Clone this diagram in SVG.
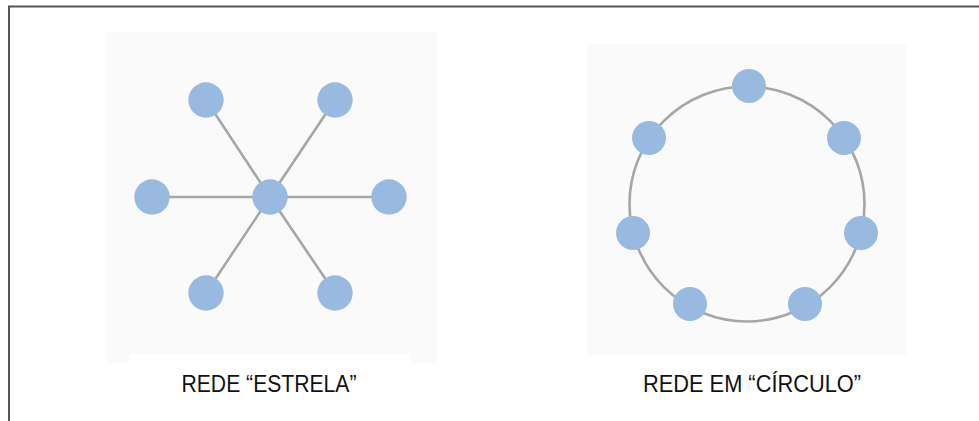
<svg xmlns="http://www.w3.org/2000/svg" width="979" height="421" viewBox="0 0 979 421">
<style>
.node{fill:#99bae0}
.edge{stroke:#a3a8a6;stroke-width:2.6;fill:none}
.panel{fill:#fbfafa}
.lbl{font-family:"Liberation Sans",Arial,sans-serif;font-size:24.5px;fill:#111;text-anchor:middle}
</style>
<rect width="979" height="421" fill="#fff"/>
<path d="M9 421 V6.5 H979" fill="none" stroke="#555" stroke-width="2"/>
<g id="panel-star">
<path class="panel" d="M106 32 H437 V363 H410 V354 H129 V363 H106 Z"/>
</g>
<g id="panel-circle">
<rect class="panel" x="587" y="44" width="319" height="311"/>
</g>
<g id="connectors">
<line class="edge" x1="270" y1="197" x2="206" y2="100"/>
<line class="edge" x1="270" y1="197" x2="335" y2="100"/>
<line class="edge" x1="270" y1="197" x2="152" y2="197"/>
<line class="edge" x1="270" y1="197" x2="389" y2="197"/>
<line class="edge" x1="270" y1="197" x2="206" y2="293"/>
<line class="edge" x1="270" y1="197" x2="335" y2="293"/>
<circle class="edge" cx="747" cy="204" r="117.5"/>
</g>
<g id="star-center"><circle class="node" cx="270" cy="197" r="17.7"/></g>
<g id="star-tl"><circle class="node" cx="206" cy="100" r="17.7"/></g>
<g id="star-tr"><circle class="node" cx="335" cy="100" r="17.7"/></g>
<g id="star-l"><circle class="node" cx="152" cy="197" r="17.7"/></g>
<g id="star-r"><circle class="node" cx="389" cy="197" r="17.7"/></g>
<g id="star-bl"><circle class="node" cx="206" cy="293" r="17.7"/></g>
<g id="star-br"><circle class="node" cx="335" cy="293" r="17.7"/></g>
<g id="ring-top"><circle class="node" cx="749" cy="86" r="17"/></g>
<g id="ring-ul"><circle class="node" cx="649" cy="138" r="17"/></g>
<g id="ring-ur"><circle class="node" cx="844" cy="138" r="17"/></g>
<g id="ring-l"><circle class="node" cx="633" cy="233" r="17"/></g>
<g id="ring-r"><circle class="node" cx="861" cy="233" r="17"/></g>
<g id="ring-bl"><circle class="node" cx="690" cy="304" r="17"/></g>
<g id="ring-br"><circle class="node" cx="805" cy="304" r="17"/></g>
<g id="labels">
<text class="lbl" x="269" y="392" textLength="175" lengthAdjust="spacingAndGlyphs">REDE “ESTRELA”</text>
<text class="lbl" x="752" y="392" textLength="218" lengthAdjust="spacingAndGlyphs">REDE EM “CÍRCULO”</text>
</g>
</svg>
